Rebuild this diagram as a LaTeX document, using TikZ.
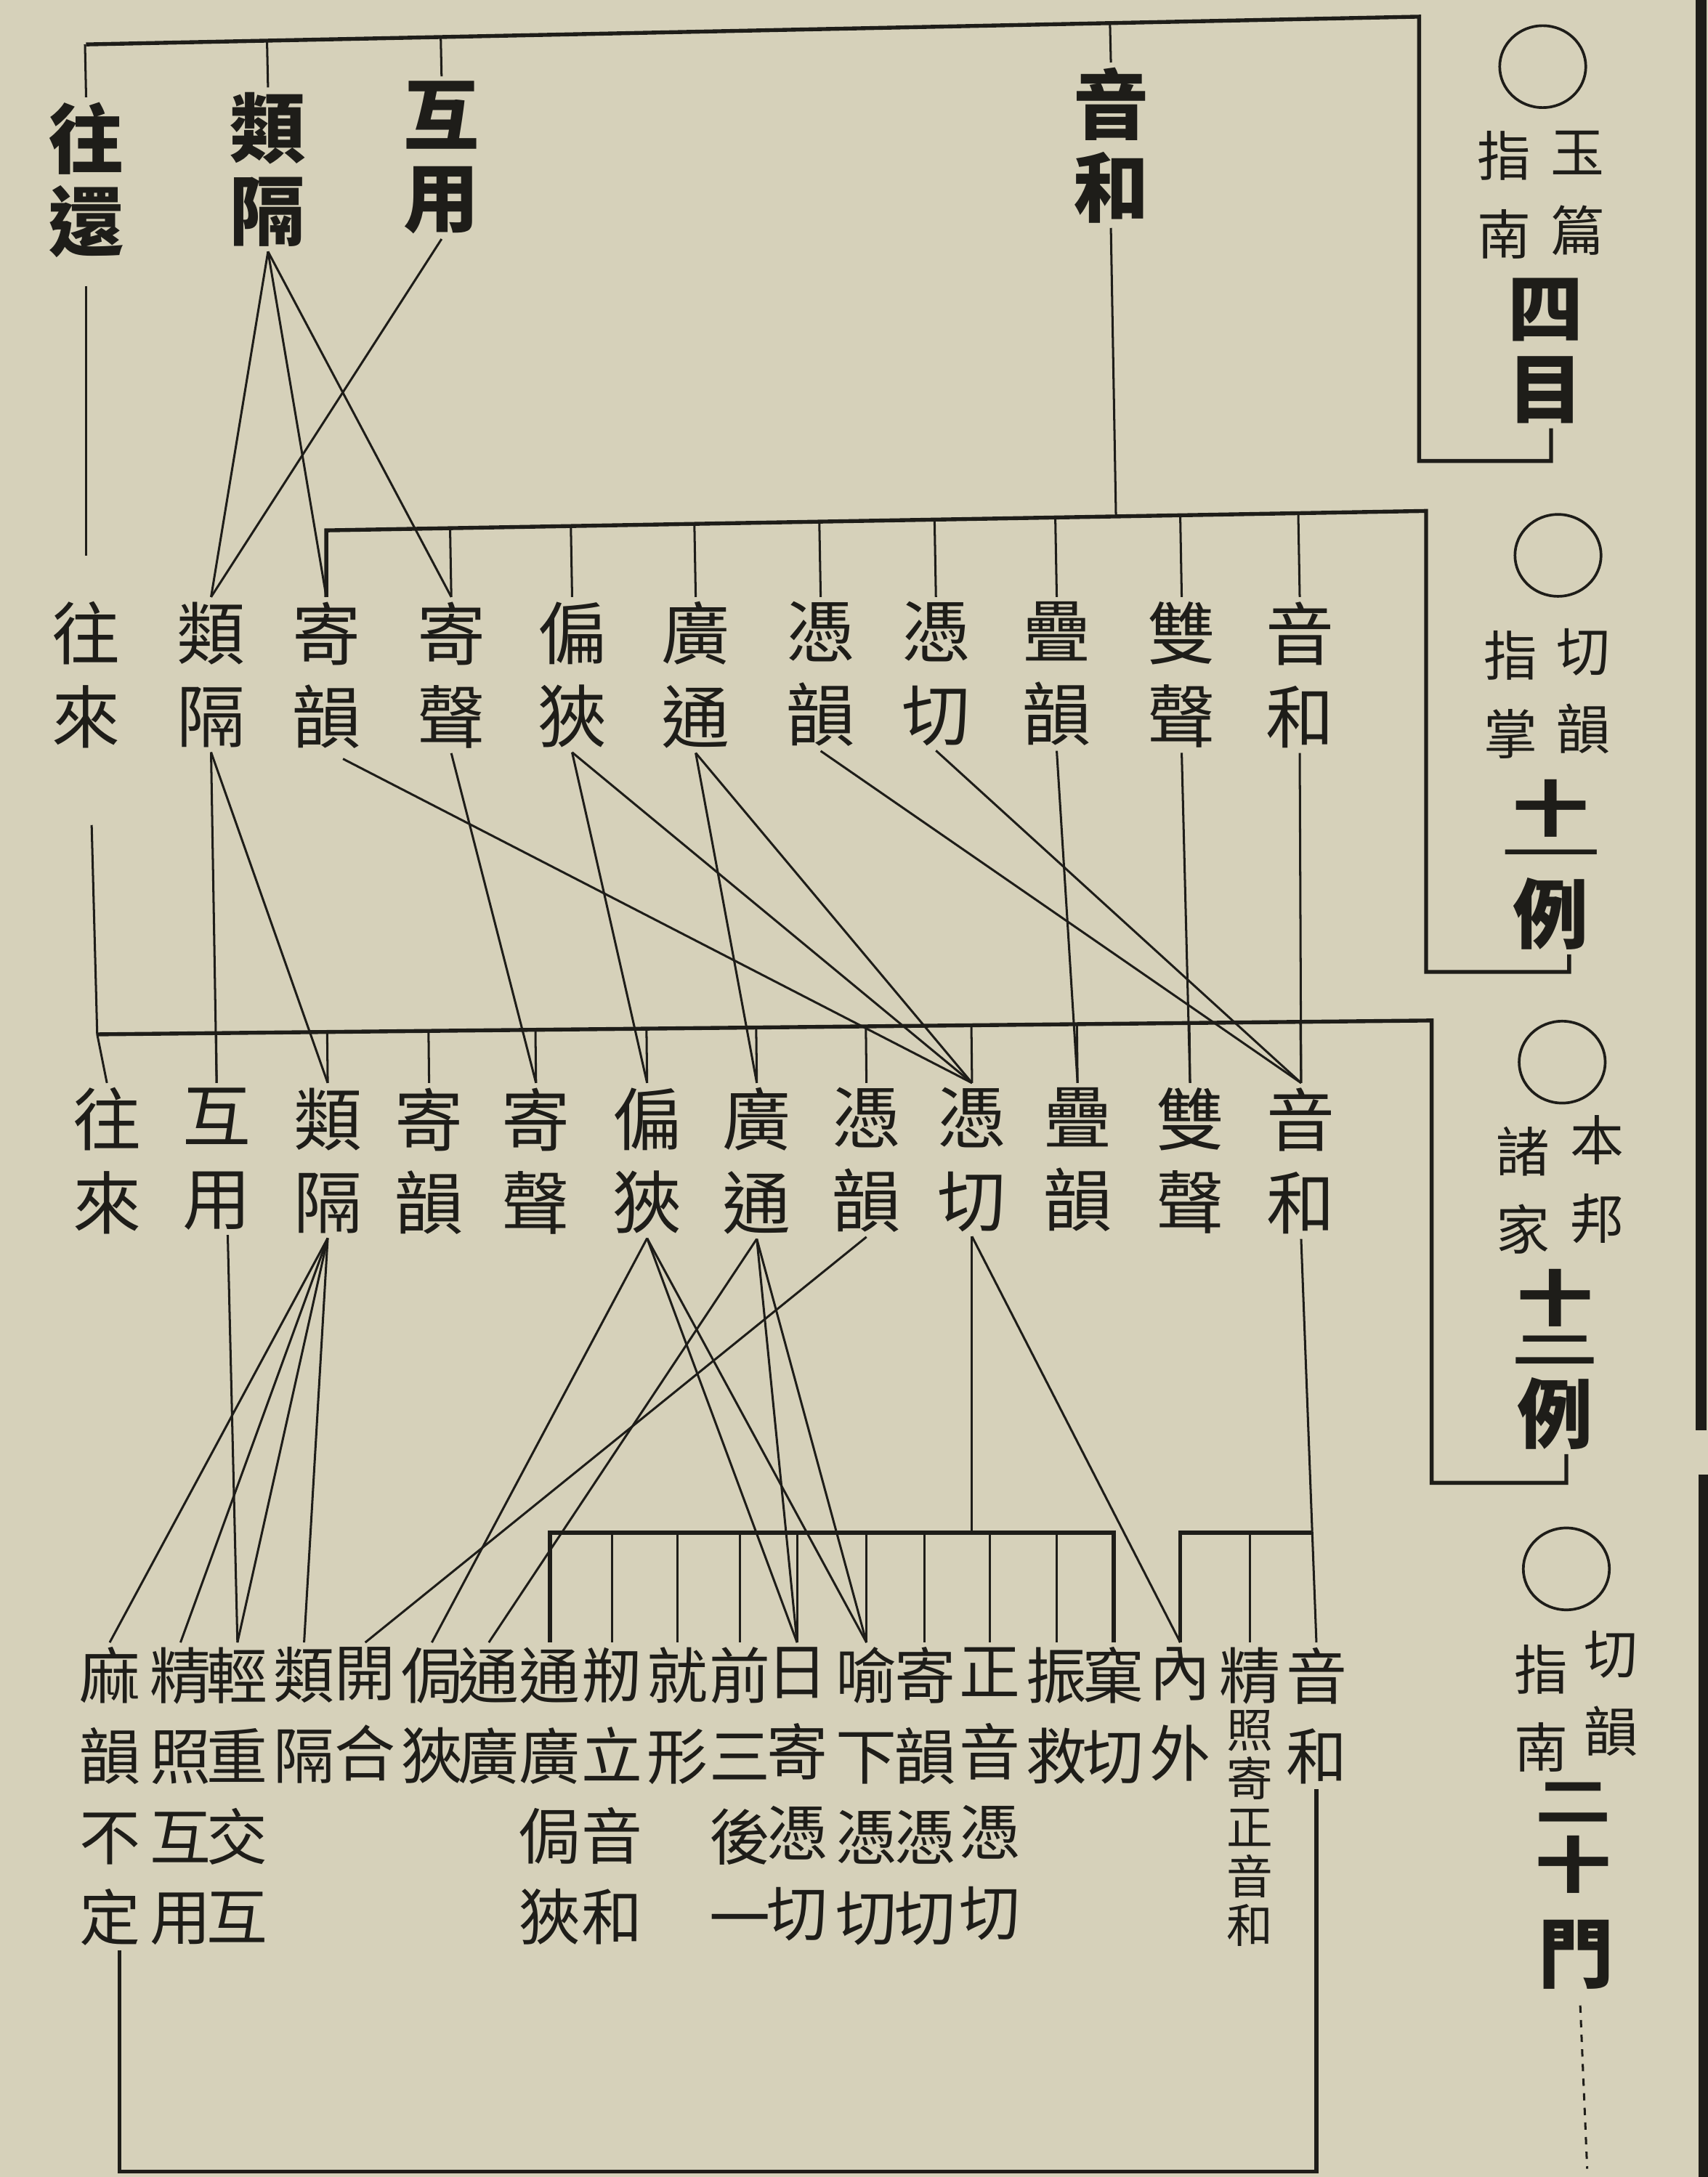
\documentclass[tikz,border=0pt]{standalone}
\usepackage{fontspec}
\usepackage{graphicx}
\usetikzlibrary{calc,shapes.geometric}
\newfontfamily\cjk{Noto Sans CJK TC}
\definecolor{paper}{RGB}{214,209,186}
\definecolor{ink}{RGB}{30,29,25}
\tikzset{
  colbase/.style={align=center, inner sep=0pt, outer sep=2pt, text=ink, anchor=north},
  rowone/.style={colbase, font=\cjk\bfseries\fontsize{31}{34}\selectfont},
  rowmid/.style={colbase, font=\cjk\fontsize{28}{34}\selectfont},
  rowbot/.style={colbase, font=\cjk\fontsize{25}{33}\selectfont},
  rowtiny/.style={colbase, font=\cjk\fontsize{19}{20}\selectfont},
  smalllab/.style={colbase, font=\cjk\fontsize{22}{32}\selectfont},
  biglab/.style={colbase, font=\cjk\bfseries\fontsize{31}{33}\selectfont},
  bigone/.style={inner sep=0pt, outer sep=2pt, text=ink, font=\cjk\bfseries\fontsize{31}{33}\selectfont},
  ring/.style={draw=ink, line width=1.1pt, ellipse, minimum width=1.24cm, minimum height=1.18cm, inner sep=0pt},
  wire/.style={draw=ink, line width=0.9pt},
  bus/.style={draw=ink, line width=1.6pt, line join=miter},
}
\begin{document}
\begin{tikzpicture}[x=0.02cm, y=-0.02cm]
\fill[paper] (0,0) rectangle (1230,1568);
\useasboundingbox (0,0) rectangle (1230,1568);

% ---------- row 1 ----------
\node[rowone] (r1a) at (62,70) {往\\還};
\node[rowone] (r1b) at (193,63) {類\\隔};
\node[rowone] (r1c) at (318,55) {互\\用};
\node[rowone] (r1d) at (800,45) {音\\和};

% ---------- row 2 ----------
\node[rowmid] (r2a) at (62,430) {往\\來};
\node[rowmid] (r2b) at (152,430) {類\\隔};
\node[rowmid] (r2c) at (235,430) {寄\\韻};
\node[rowmid] (r2d) at (325,430) {寄\\聲};
\node[rowmid] (r2e) at (412,430) {偏\\狹};
\node[rowmid] (r2f) at (501,430) {廣\\通};
\node[rowmid] (r2g) at (591,430) {憑\\韻};
\node[rowmid] (r2h) at (674,430) {憑\\切};
\node[rowmid] (r2i) at (761,430) {疊\\韻};
\node[rowmid] (r2j) at (851,430) {雙\\聲};
\node[rowmid] (r2k) at (936,430) {音\\和};

% ---------- row 3 ----------
\node[rowmid] (r3a) at (77,780) {往\\來};
\node[rowmid] (r3b) at (156,780) {互\\用};
\node[rowmid] (r3c) at (236,780) {類\\隔};
\node[rowmid] (r3d) at (309,780) {寄\\韻};
\node[rowmid] (r3e) at (386,780) {寄\\聲};
\node[rowmid] (r3f) at (466,780) {偏\\狹};
\node[rowmid] (r3g) at (545,780) {廣\\通};
\node[rowmid] (r3h) at (624,780) {憑\\韻};
\node[rowmid] (r3i) at (700,780) {憑\\切};
\node[rowmid] (r3j) at (776,780) {疊\\韻};
\node[rowmid] (r3k) at (857,780) {雙\\聲};
\node[rowmid] (r3l) at (937,780) {音\\和};

% ---------- bottom row ----------
\node[rowbot] (rb1) at (79,1183) {麻\\韻\\不\\定};
\node[rowbot] (rb2) at (130,1183) {精\\照\\互\\用};
\node[rowbot] (rb3) at (171,1183) {輕\\重\\交\\互};
\node[rowbot] (rb4) at (219,1183) {類\\隔};
\node[rowbot] (rb5) at (263,1183) {開\\合};
\node[rowbot] (rb6) at (311,1183) {侷\\狹};
\node[rowbot] (rb7) at (352,1183) {通\\廣};
\node[rowbot] (rb8) at (396,1183) {通\\廣\\侷\\狹};
\node[rowbot] (rb9) at (441,1183) {剏\\立\\音\\和};
\node[rowbot] (rb10) at (488,1183) {就\\形};
\node[rowbot] (rb11) at (533,1183) {前\\三\\後\\一};
\node[rowbot] (rb12) at (574,1183) {日\\寄\\憑\\切};
\node[rowbot] (rb13) at (624,1183) {喻\\下\\憑\\切};
\node[rowbot] (rb14) at (666,1183) {寄\\韻\\憑\\切};
\node[rowbot] (rb15) at (713,1183) {正\\音\\憑\\切};
\node[rowbot] (rb16) at (761,1183) {振\\救};
\node[rowbot] (rb17) at (802,1183) {窠\\切};
\node[rowbot] (rb18) at (850,1183) {內\\外};
\node[rowtiny] (rb19) at (900,1183) {{\fontsize{25}{25}\selectfont 精}\\照\\寄\\正\\音\\和};
\node[rowbot] (rb20) at (948,1183) {音\\和};

% ---------- right-hand titles ----------
\node[ring] (c1) at (1111,48) {};
\node[smalllab] (s1a) at (1136,91) {玉\\篇};
\node[smalllab] (s1b) at (1083,91) {指\\南};
\node[biglab] (g1) at (1113,197) {四\\目};

\node[ring] (c2) at (1122,400) {};
\node[smalllab] (s2a) at (1140,449) {切\\韻};
\node[smalllab] (s2b) at (1088,451) {指\\掌};
\node[bigone] (g2a) at (1117,582) {\scalebox{1}[0.8]{十}};
\node[bigone] (g2b) at (1117,617) {\scalebox{1.3}[0.4]{一}};
\node[bigone] (g2c) at (1117,658) {例};

\node[ring] (c3) at (1125,765) {};
\node[smalllab] (s3a) at (1150,800) {本\\邦};
\node[smalllab] (s3b) at (1097,808) {諸\\家};
\node[bigone] (g3a) at (1120,935) {\scalebox{1}[0.8]{十}};
\node[bigone] (g3b) at (1120,972) {\scalebox{1.15}[0.5]{二}};
\node[bigone] (g3c) at (1120,1018) {例};

\node[ring] (c4) at (1128,1130) {};
\node[smalllab] (s4a) at (1160,1171) {切\\韻};
\node[smalllab] (s4b) at (1110,1181) {指\\南};
\node[bigone] (g4a) at (1133,1298) {\scalebox{1}[0.7]{二}};
\node[bigone] (g4b) at (1133,1343) {\scalebox{1}[0.8]{十}};
\node[bigone] (g4c) at (1135,1408) {門};

% ---------- top bus and box 1 ----------
\coordinate (T1) at (62,32);
\coordinate (T2) at (1022,12);
\coordinate (K1a) at (1022,332);
\coordinate (K1b) at (1117,332);
\draw[bus] (T1) -- (T2) -- (K1a) -- (K1b) -- (g1.south -| K1b);
\foreach \n in {r1a,r1b,r1c,r1d} \draw[wire] ($(T1)!(\n.north)!(T2)$) -- (\n.north);

% ---------- row 1 to row 2 ----------
\draw[wire, shorten <=0.34cm, shorten >=0.6cm] (r1a.south) -- (r2a.north);
\foreach \n in {r2b,r2c,r2d} \draw[wire] (r1b.south) -- (\n.north);
\draw[wire] (r1c.south) -- (r2b.north);
\coordinate (B2a) at (235,382);
\coordinate (B2b) at (1027,368);
\coordinate (K2a) at (1027,700);
\coordinate (K2b) at (1130,700);
\draw[wire] (r1d.south) -- ($(B2a)!(r1d.south)!(B2b)$);
\draw[bus] (r2c.north) -- (B2a) -- (B2b) -- (K2a) -- (K2b) -- (g2c.south -| K2b);
\foreach \n in {r2d,r2e,r2f,r2g,r2h,r2i,r2j,r2k} \draw[wire] ($(B2a)!(\n.north)!(B2b)$) -- (\n.north);

% ---------- row 2 to row 3 ----------
\coordinate (B3a) at (70,745);
\coordinate (B3b) at (1031,735);
\coordinate (K3a) at (1031,1068);
\coordinate (K3b) at (1128,1068);
\draw[wire] ($(r2a.south)+(4,52)$) -- (B3a) -- (r3a.north);
\draw[bus] (B3a) -- (B3b) -- (K3a) -- (K3b) -- (g3c.south -| K3b);
\foreach \n in {r3b,r3c,r3d,r3e,r3f,r3g,r3h,r3i,r3j,r3k,r3l} \draw[wire] ($(B3a)!(\n.north)!(B3b)$) -- (\n.north);
\draw[wire] (r2b.south) -- (r3b.north);
\draw[wire] (r2b.south) -- (r3c.north);
\draw[wire] ($(r2c.south)+(12,4)$) -- (r3i.north);
\draw[wire] (r2d.south) -- (r3e.north);
\draw[wire] (r2e.south) -- (r3f.north);
\draw[wire] (r2e.south) -- (r3i.north);
\draw[wire] (r2f.south) -- (r3g.north);
\draw[wire] (r2f.south) -- (r3i.north);
\draw[wire] (r2g.south) -- (r3l.north);
\draw[wire] (r2h.south) -- (r3l.north);
\draw[wire] (r2i.south) -- (r3j.north);
\draw[wire] (r2j.south) -- (r3k.north);
\draw[wire] (r2k.south) -- (r3l.north);

% ---------- row 3 to bottom row ----------
\draw[wire] ($(r3b.south)+(8,0)$) -- (rb3.north);
\foreach \n in {rb1,rb2,rb3,rb4} \draw[wire] (r3c.south) -- (\n.north);
\foreach \n in {rb6,rb12,rb13} \draw[wire] (r3f.south) -- (\n.north);
\foreach \n in {rb7,rb12,rb13} \draw[wire] (r3g.south) -- (\n.north);
\draw[wire] (r3h.south) -- (rb5.north);
\coordinate (B4a) at (396,1104);
\coordinate (B4b) at (802,1104);
\draw[wire] (r3i.south) -- (r3i.south |- B4a);
\draw[wire] (r3i.south) -- (rb18.north);
\draw[bus] (rb8.north) -- (B4a) -- (B4b) -- (rb17.north);
\foreach \n in {rb9,rb10,rb11,rb12,rb13,rb14,rb15,rb16} \draw[wire] (\n.north |- B4a) -- (\n.north);
\coordinate (B5a) at (850,1104);
\coordinate (B5b) at (945,1104);
\draw[bus] (rb18.north) -- (B5a) -- (B5b);
\draw[wire] (rb19.north |- B5a) -- (rb19.north);
\draw[wire] (r3l.south) -- (rb20.north);
\coordinate (BL) at (86,1564);
\coordinate (BR) at (948,1564);
\draw[bus] (rb1.south -| BL) -- (BL) -- (BR) -- (rb20.south -| BR);

% ---------- box 4 tick and page border ----------
\coordinate (K4) at (1143,1562);
\draw[wire, dashed] ($(g4c.south)+(3,8)$) -- (K4);
\draw[ink, line width=4.5pt] (1225,0) -- (1225,1030);
\draw[ink, line width=4.5pt] (1227,1062) -- (1227,1568);
\end{tikzpicture}
\end{document}
